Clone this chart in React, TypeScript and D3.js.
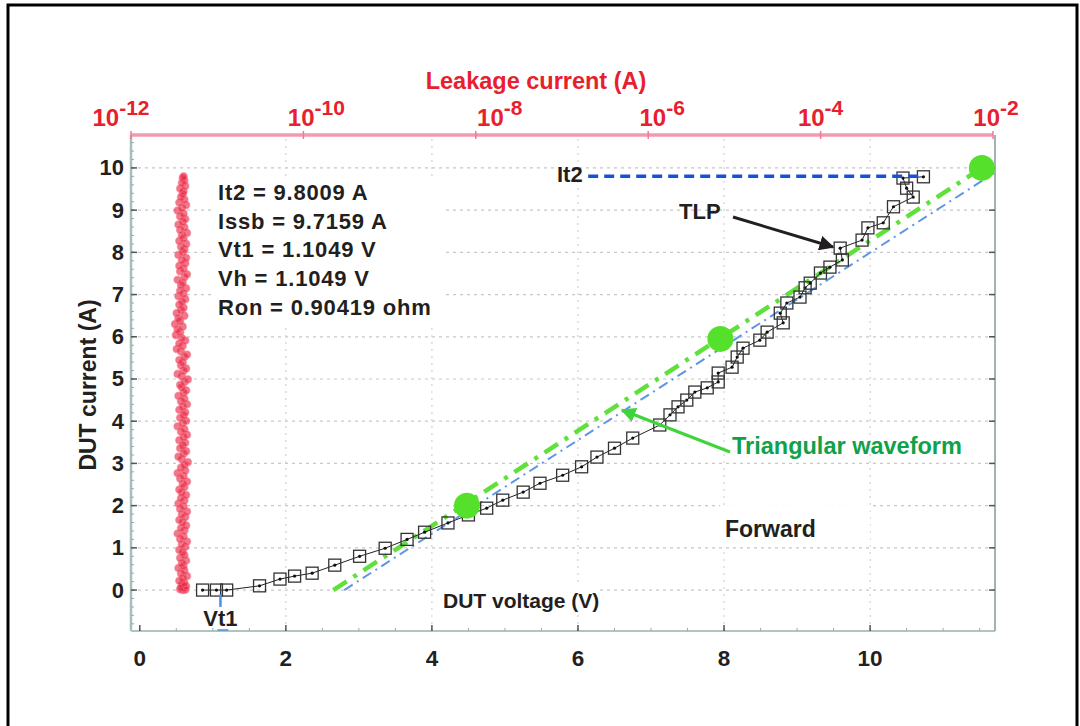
import React from 'react';
import * as d3 from 'd3';

// ---------- data ----------
const tlpV = [0.86, 1.05, 1.19, 1.64, 1.92, 2.12, 2.36, 2.67, 3.01, 3.36, 3.66, 3.9, 4.22, 4.5, 4.75, 4.97, 5.25, 5.48, 5.79, 6.05, 6.26, 6.5, 6.75, 7.12, 7.26, 7.37, 7.49, 7.6, 7.77, 7.92, 7.92, 8.11, 8.18, 8.26, 8.49, 8.59, 8.81, 8.77, 8.86, 9.04, 9.11, 9.18, 9.32, 9.45, 9.62, 9.59, 9.89, 9.97, 10.18, 10.32, 10.59, 10.5, 10.45, 10.73];
const tlpI = [0, 0, 0, 0.1, 0.26, 0.33, 0.4, 0.59, 0.8, 0.99, 1.2, 1.37, 1.59, 1.78, 1.94, 2.13, 2.32, 2.53, 2.72, 2.92, 3.15, 3.36, 3.6, 3.91, 4.15, 4.34, 4.5, 4.69, 4.79, 4.93, 5.14, 5.28, 5.52, 5.73, 5.92, 6.11, 6.33, 6.56, 6.8, 6.94, 7.16, 7.27, 7.51, 7.65, 7.82, 8.1, 8.29, 8.58, 8.7, 9.08, 9.31, 9.52, 9.76, 9.79];

const leakCurrent = [
  0, 0.01, 0.02, 0.04, 0.06, 0.09, 0.13, 0.17, 0.22, 0.28,
  0.33, 0.39, 0.46, 0.52, 0.57, 0.63, 0.7, 0.76, 0.83, 0.89,
  0.95, 1.02, 1.08, 1.15, 1.21, 1.27, 1.34, 1.41, 1.47, 1.53,
  1.6, 1.66, 1.73, 1.79, 1.86, 1.92, 1.98, 2.05, 2.12, 2.18,
  2.25, 2.31, 2.38, 2.44, 2.51, 2.57, 2.64, 2.7, 2.77, 2.83,
  2.9, 2.96, 3.03, 3.1, 3.16, 3.23, 3.29, 3.36, 3.42, 3.49,
  3.55, 3.62, 3.68, 3.75, 3.81, 3.88, 3.95, 4.01, 4.08, 4.14,
  4.21, 4.27, 4.34, 4.4, 4.47, 4.53, 4.6, 4.67, 4.73, 4.8,
  4.86, 4.93, 4.99, 5.06, 5.12, 5.19, 5.25, 5.32, 5.39, 5.45,
  5.52, 5.58, 5.65, 5.71, 5.78, 5.84, 5.91, 5.97, 6.04, 6.11,
  6.17, 6.24, 6.3, 6.37, 6.43, 6.5, 6.56, 6.63, 6.69, 6.76,
  6.83, 6.89, 6.96, 7.02, 7.09, 7.15, 7.22, 7.28, 7.35, 7.41,
  7.48, 7.55, 7.61, 7.68, 7.74, 7.81, 7.87, 7.94, 8.0, 8.07,
  8.13, 8.2, 8.27, 8.33, 8.4, 8.46, 8.53, 8.59, 8.66, 8.72,
  8.79, 8.85, 8.92, 8.99, 9.05, 9.12, 9.18, 9.25, 9.31, 9.38,
  9.44, 9.51, 9.57, 9.64, 9.7, 9.76, 9.8,
];
// log10 of leakage current (A)
const leakExp = [
  -11.40, -11.37, -11.43, -11.39, -11.42, -11.36, -11.41, -11.38, -11.44, -11.40,
  -11.35, -11.42, -11.38, -11.45, -11.39, -11.41, -11.36, -11.43, -11.38, -11.40,
  -11.44, -11.37, -11.41, -11.35, -11.43, -11.39, -11.46, -11.38, -11.42, -11.36,
  -11.40, -11.44, -11.37, -11.41, -11.35, -11.43, -11.39, -11.45, -11.38, -11.42,
  -11.36, -11.41, -11.44, -11.38, -11.40, -11.35, -11.43, -11.39, -11.46, -11.37,
  -11.42, -11.38, -11.34, -11.41, -11.45, -11.39, -11.36, -11.43, -11.40, -11.37,
  -11.44, -11.39, -11.35, -11.42, -11.38, -11.46, -11.40, -11.36, -11.43, -11.39,
  -11.37, -11.44, -11.40, -11.35, -11.42, -11.38, -11.45, -11.39, -11.36, -11.41,
  -11.43, -11.38, -11.34, -11.41, -11.46, -11.39, -11.36, -11.42, -11.40, -11.44,
  -11.38, -11.35, -11.42, -11.47, -11.40, -11.44, -11.37, -11.41, -11.48, -11.43,
  -11.46, -11.40, -11.49, -11.43, -11.45, -11.38, -11.47, -11.42, -11.39, -11.44,
  -11.41, -11.37, -11.45, -11.39, -11.43, -11.36, -11.42, -11.40, -11.46, -11.38,
  -11.35, -11.43, -11.39, -11.44, -11.37, -11.41, -11.36, -11.45, -11.40, -11.38,
  -11.42, -11.36, -11.44, -11.39, -11.41, -11.35, -11.43, -11.38, -11.45, -11.40,
  -11.37, -11.43, -11.39, -11.46, -11.41, -11.36, -11.44, -11.38, -11.42, -11.40,
  -11.39, -11.43, -11.37, -11.41, -11.38, -11.40, -11.39,
];

const triV = [4.48, 7.95, 11.53];
const triI = [2, 5.95, 10];
const triLineV = [2.65, 11.53];
const triLineI = [0, 10];
const fitV = [2.8, 11.7];
const fitI = [0, 9.88];
const it2 = 9.8009;
const it2V = [6.14, 10.66];
const vt1 = 1.1049;

const xTicks = [0, 2, 4, 6, 8, 10];
const yTicks = [0, 1, 2, 3, 4, 5, 6, 7, 8, 9, 10];
const topExps = [-12, -10, -8, -6, -4, -2];
const topLabelNudge = [-10, 13, 24, 14, 0, 3];
const annotations = ['It2 = 9.8009 A', 'Issb = 9.7159 A', 'Vt1 = 1.1049 V', 'Vh = 1.1049 V', 'Ron = 0.90419 ohm'];

const FONT = "'Liberation Sans', Arial, Helvetica, sans-serif";
const INK = '#231f20';
const RED = '#e8202e';

export default function App() {
  const x = d3.scaleLinear().domain([-0.12, 11.71]).range([131, 995]);
  const y = d3.scaleLinear().domain([-0.97, 10.78]).range([631, 135]);
  const xTop = d3.scaleLog().domain([1e-12, 1e-2]).range([131, 993]);

  const [x0, x1] = x.range();
  const [yB, yT] = y.range();

  const tlpPts = tlpV.map((v, i) => [x(v), y(tlpI[i])] as [number, number]);
  const tlpLine = d3.line()(tlpPts) || '';
  const triPath = d3.line()(triLineV.map((v, i) => [x(v), y(triLineI[i])] as [number, number])) || '';
  const fitPath = d3.line()(fitV.map((v, i) => [x(v), y(fitI[i])] as [number, number])) || '';

  const minorY = d3.range(-0.8, 10.7, 0.2);
  const minorX = d3.range(0, 11.71, 0.5);

  return (
    <svg width={1080} height={726} style={{ position: 'absolute', left: 0, top: 0, background: '#fff' }}
      fontFamily={FONT}>
      <defs>
        <marker id="ahBlack" viewBox="0 0 10 10" refX="9" refY="5" markerWidth="5" markerHeight="5" orient="auto">
          <path d="M0,0 L10,5 L0,10 z" fill={INK} />
        </marker>
        <marker id="ahGreen" viewBox="0 0 10 10" refX="9" refY="5" markerWidth="5" markerHeight="5" orient="auto">
          <path d="M0,0 L10,5 L0,10 z" fill="#3fd43a" />
        </marker>
      </defs>
      <rect x={0} y={0} width={1080} height={726} fill="#fff" />
      {/* frame */}
      <rect x={8} y={5} width={1069} height={800} fill="none" stroke="#000" strokeWidth={3} />

      {/* grid */}
      {yTicks.map((t) => (
        <line key={'gy' + t} x1={x0} x2={x1} y1={y(t)} y2={y(t)} stroke="#c8c8c8" strokeWidth={1.2} strokeDasharray="3,4" />
      ))}
      {xTicks.filter((t) => t > 0).map((t) => (
        <line key={'gx' + t} x1={x(t)} x2={x(t)} y1={yB} y2={yT} stroke="#d2d2d2" strokeWidth={1.2} strokeDasharray="2,5" />
      ))}

      {/* white boxes behind texts */}
      <rect x={212} y={178} width={230} height={146} fill="#fff" />
      <rect x={720} y={505} width={150} height={42} fill="#fff" opacity={0.9} />
      <rect x={438} y={586} width={160} height={28} fill="#fff" />

      {/* axes */}
      <line x1={x0} x2={x0} y1={yT} y2={yB} stroke="#a9bdbd" strokeWidth={2.5} />
      <line x1={x0} x2={x1} y1={yB} y2={yB} stroke="#b3c2c2" strokeWidth={2} />
      <line x1={x1} x2={x1} y1={yT} y2={yB} stroke="#a3b3b3" strokeWidth={2} />
      {minorY.map((t, i) => (
        <line key={'my' + i} x1={x0} x2={x0 + 3} y1={y(t)} y2={y(t)} stroke="#9aa" strokeWidth={1} />
      ))}
      {yTicks.map((t) => (
        <g key={'ty' + t}>
          <line x1={x0} x2={x0 + 6} y1={y(t)} y2={y(t)} stroke="#555" strokeWidth={1.5} />
          <line x1={x1 - 6} x2={x1} y1={y(t)} y2={y(t)} stroke="#555" strokeWidth={1.5} />
          <text x={124} y={y(t) + 7.5} textAnchor="end" fontSize={22} fontWeight="bold" fill={INK}>{t}</text>
        </g>
      ))}
      {minorX.map((t, i) => (
        <line key={'mx' + i} x1={x(t)} x2={x(t)} y1={yB} y2={yB - 3} stroke="#9aa" strokeWidth={1} />
      ))}
      {xTicks.map((t) => (
        <g key={'tx' + t}>
          <line x1={x(t)} x2={x(t)} y1={yB} y2={yB - 6} stroke="#555" strokeWidth={1.5} />
          <text x={x(t)} y={666} textAnchor="middle" fontSize={22.5} fontWeight="bold" fill={INK}>{t}</text>
        </g>
      ))}

      {/* top log axis */}
      <line x1={xTop.range()[0]} x2={xTop.range()[1]} y1={yT} y2={yT} stroke="#f39ab0" strokeWidth={3.5} />
      {topExps.map((e, i) => (
        <g key={'tt' + e}>
          <line x1={xTop(10 ** e)} x2={xTop(10 ** e)} y1={yT - 4} y2={yT + 4} stroke="#f07a96" strokeWidth={1.5} />
          <text x={xTop(10 ** e) + topLabelNudge[i]} y={126} textAnchor="middle" fontWeight="bold" fill={RED}>
            <tspan fontSize={24}>10</tspan>
            <tspan fontSize={21} dy={-11}>{e}</tspan>
          </text>
        </g>
      ))}
      <text x={536} y={89} textAnchor="middle" fontSize={23.5} fontWeight="bold" fill={RED}>Leakage current (A)</text>

      {/* leakage scatter */}
      {leakCurrent.map((c, i) => (
        <circle key={'lk' + i} cx={xTop(10 ** leakExp[i])} cy={y(c)} r={3.6}
          fill="rgba(232,30,56,0.6)" stroke="rgba(245,110,135,0.5)" strokeWidth={1.4} />
      ))}

      {/* fit & triangular lines */}
      <path d={fitPath} fill="none" stroke="#5f95e6" strokeWidth={2} strokeDasharray="10,5,2,5" />
      <path d={triPath} fill="none" stroke="#5fe03a" strokeWidth={4.5} strokeDasharray="16,8,4,8" />

      {/* TLP curve */}
      <path d={tlpLine} fill="none" stroke="#222" strokeWidth={1} />
      {tlpPts.map(([px, py], i) => (
        <g key={'tp' + i}>
          <rect x={px - 6} y={py - 6} width={12} height={12} fill="none" stroke="#333" strokeWidth={1.3} />
          <circle cx={px} cy={py} r={1.6} fill="#111" />
        </g>
      ))}

      {/* It2 line */}
      <line x1={x(it2V[0])} x2={x(it2V[1])} y1={y(it2)} y2={y(it2)} stroke="#1b4fd8" strokeWidth={3.5} strokeDasharray="10,6" />
      <text x={557} y={182} fontSize={22} fontWeight="bold" fill={INK}>It2</text>

      {/* triangular waveform dots */}
      {triV.map((v, i) => (
        <circle key={'tr' + i} cx={x(v)} cy={y(triI[i])} r={13} fill="#55e02c" />
      ))}

      {/* Vt1 marker */}
      <line x1={x(vt1)} x2={x(vt1)} y1={y(-0.1)} y2={y(-0.4)} stroke="#4a90e2" strokeWidth={2.5} />
      <line x1={x(vt1) - 3} x2={x(vt1) + 8} y1={yB - 1} y2={yB - 1} stroke="#4a90e2" strokeWidth={1.5} />
      <text x={x(vt1)} y={626} textAnchor="middle" fontSize={22} fontWeight="bold" fill={INK}>Vt1</text>

      {/* annotations */}
      {annotations.map((s, i) => (
        <text key={'an' + i} x={218} y={200 + i * 28.7} fontSize={22} fontWeight="bold" letterSpacing={0.8} fill={INK}>{s}</text>
      ))}
      <text x={679} y={219} fontSize={22} fontWeight="bold" fill={INK}>TLP</text>
      <line x1={733} y1={217} x2={833} y2={247} stroke={INK} strokeWidth={3} markerEnd="url(#ahBlack)" />

      <line x1={730} y1={452} x2={622} y2={410} stroke="#3fd43a" strokeWidth={3} markerEnd="url(#ahGreen)" />
      <text x={732} y={454} fontSize={23.5} fontWeight="bold" fill="#10a24a">Triangular waveform</text>

      <text x={725} y={537} fontSize={23} fontWeight="bold" fill={INK}>Forward</text>
      <text x={443} y={608} fontSize={21} fontWeight="bold" fill={INK}>DUT voltage (V)</text>
      <text transform="translate(96,385) rotate(-90)" textAnchor="middle" fontSize={23} fontWeight="bold" fill={INK}>DUT current (A)</text>
    </svg>
  );
}
